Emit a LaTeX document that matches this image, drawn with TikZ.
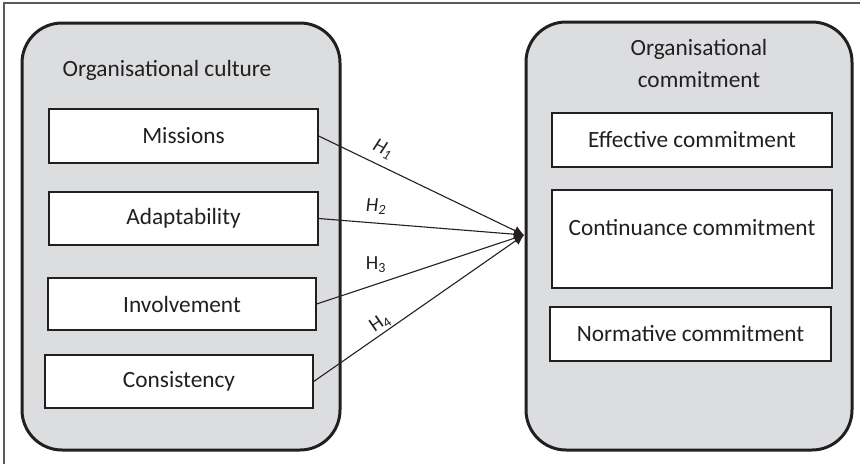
\documentclass[tikz,border=0pt]{standalone}
\usepackage{fontspec}
\setmainfont{Carlito}
\usetikzlibrary{arrows.meta}
\definecolor{ink}{HTML}{231F20}
\definecolor{panel}{HTML}{DCDDDF}
\definecolor{framec}{HTML}{5A5A5A}
\begin{document}
\begin{tikzpicture}[x=1pt,y=-1pt,
  every node/.style={font=\fontsize{23.3}{32}\selectfont, text=ink},
  panelbox/.style={draw=ink, line width=3pt, fill=panel, rounded corners=40pt},
  itembox/.style={draw=ink, line width=1.4pt, fill=white, inner sep=0pt},
  link/.style={draw=ink, line width=1.1pt, -{Latex[length=10pt,width=10pt]}},
  hlab/.style={font=\fontsize{20}{24}\selectfont, inner sep=0pt}]
\useasboundingbox (0,0) rectangle (860,464);
\draw[framec, line width=1.2pt] (4,464) -- (4,3) -- (860,3);
% panels
\draw[panelbox] (22,23) rectangle (340,450);
\draw[panelbox] (526,22) rectangle (852,450);
% titles
\node (lt) at (167,70) {Organisational culture};
\node[align=center] (rt) at (699,63) {Organisational\\commitment};
% left items
\node[itembox, minimum width=269pt, minimum height=54pt] (mis) at (183.5,136) {Missions};
\node[itembox, minimum width=269pt, minimum height=53pt] (ada) at (183.5,218.5) {Adaptability};
\node[itembox, minimum width=268pt, minimum height=52pt] (inv) at (182,304) {Involvement};
\node[itembox, minimum width=268pt, minimum height=53pt] (con) at (179,381.5) {Consistency};
% right items
\node[itembox, minimum width=280pt, minimum height=54pt] (eff) at (692,140) {Effective commitment};
\node[itembox, minimum width=280pt, minimum height=98pt,
  label={[yshift=11pt]center:Continuance commitment}] (cnt) at (692,239) {};
\node[itembox, minimum width=281pt, minimum height=54pt] (nor) at (690.5,334) {Normative commitment};
% arrows
\coordinate (tip) at (524,235);
\draw[link] (mis.east) -- (tip);
\draw[link] (ada.east) -- (tip);
\draw[link] (inv.east) -- (tip);
\draw[link] (con.east) -- (tip);
% labels
\node[hlab, rotate=-25.7] (h1) at (383,149) {\itshape H\textsubscript{1}};
\node[hlab] (h2) at (376,207) {\itshape H\textsubscript{2}};
\node[hlab] (h3) at (376,265) {H\textsubscript{3}};
\node[hlab, rotate=34.7] (h4) at (380,323) {H\textsubscript{4}};
\end{tikzpicture}
\end{document}
